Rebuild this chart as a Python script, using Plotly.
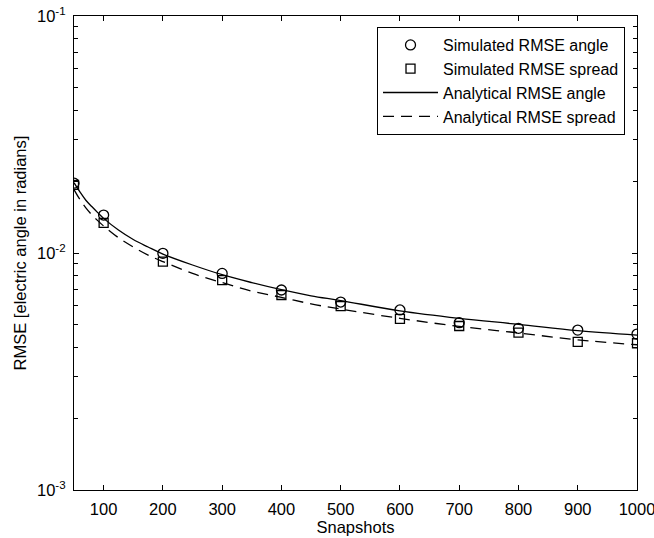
import plotly.graph_objects as go

# Simulated RMSE values at each snapshot count
snapshots = [50, 100, 200, 300, 400, 500, 600, 700, 800, 900, 1000]
sim_angle = [0.0197, 0.01446, 0.00997, 0.0082, 0.00698, 0.00621, 0.00575, 0.00508, 0.00481, 0.00473, 0.00455]
sim_spread = [0.0194, 0.0134, 0.00919, 0.00769, 0.00665, 0.00597, 0.00527, 0.00492, 0.00461, 0.00422, 0.00416]

# Analytical RMSE curves
n_curve = [50, 60, 70, 80, 90, 100, 125, 150, 175, 200, 250, 300, 350, 400, 450, 500, 600, 700, 800, 900, 1000]
ana_angle = [0.0198, 0.0181, 0.0167, 0.0157, 0.0148, 0.0140, 0.0125, 0.0114, 0.0106, 0.0099, 0.0089, 0.0081,
             0.0075, 0.0070, 0.0066, 0.0063, 0.0057, 0.0053, 0.0050, 0.0047, 0.0045]
ana_spread = [0.0185, 0.0168, 0.0155, 0.0145, 0.0137, 0.0130, 0.0116, 0.0106, 0.0098, 0.0092, 0.0082, 0.0075,
              0.0069, 0.0065, 0.0061, 0.0058, 0.0053, 0.0049, 0.0046, 0.0043, 0.0041]

x_ticks = [100, 200, 300, 400, 500, 600, 700, 800, 900, 1000]
y_ticks = [0.001, 0.01, 0.1]
y_ticktext = ["10<sup>-3</sup>", "10<sup>-2</sup>", "10<sup>-1</sup>"]
y_minor = [m * d for d in (0.001, 0.01) for m in range(2, 10)]

FONT = "Liberation Sans, Arial, sans-serif"
FS = 16.5

fig = go.Figure()
fig.add_trace(go.Scatter(
    x=snapshots, y=sim_angle, mode="markers", name="Simulated RMSE angle",
    marker=dict(symbol="circle-open", size=10, color="black", line=dict(width=1.3, color="black")),
))
fig.add_trace(go.Scatter(
    x=snapshots, y=sim_spread, mode="markers", name="Simulated RMSE spread",
    marker=dict(symbol="square-open", size=9, color="black", line=dict(width=1.3, color="black")),
))
fig.add_trace(go.Scatter(
    x=n_curve, y=ana_angle, mode="lines", name="Analytical RMSE angle",
    line=dict(color="black", width=1.3, shape="spline"),
))
fig.add_trace(go.Scatter(
    x=n_curve, y=ana_spread, mode="lines", name="Analytical RMSE spread",
    line=dict(color="black", width=1.3, dash="11px,7px", shape="spline"),
))

axis_common = dict(
    showgrid=False, zeroline=False, showline=True, linecolor="black", linewidth=1.2,
    mirror="ticks", ticks="inside", ticklen=5, tickcolor="black", tickwidth=1,
    tickfont=dict(family=FONT, size=FS, color="black"),
    automargin=False, ticklabeloverflow="allow",
)

fig.update_layout(
    width=654, height=538,
    margin=dict(l=74, r=17, t=16, b=48),
    paper_bgcolor="white", plot_bgcolor="white",
    font=dict(family=FONT, size=FS, color="black"),
    xaxis=dict(
        range=[50, 1000], tickvals=x_ticks, ticklabelstandoff=4,
        title=dict(text="Snapshots", font=dict(family=FONT, size=FS), standoff=2),
        **axis_common,
    ),
    yaxis=dict(
        type="log", range=[-3, -1], tickvals=y_ticks, ticktext=y_ticktext, ticklabelstandoff=4,
        minor=dict(tickvals=y_minor, ticks="inside", ticklen=4, tickcolor="black", showgrid=False),
        title=dict(text="RMSE [electric angle in radians]", font=dict(family=FONT, size=FS), standoff=6),
        **axis_common,
    ),
    legend=dict(
        x=0.9787, y=0.9768, xanchor="right", yanchor="top",
        bgcolor="white", bordercolor="black", borderwidth=1,
        font=dict(family=FONT, size=16, color="black"),
        tracegroupgap=0, itemwidth=55,
    ),
    showlegend=True,
)

fig.write_html("out.html")
